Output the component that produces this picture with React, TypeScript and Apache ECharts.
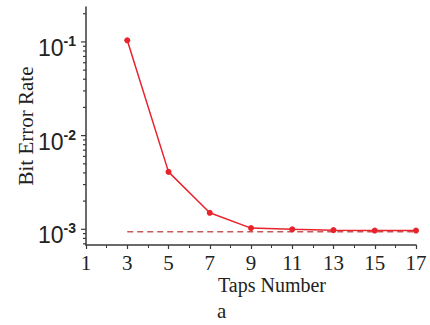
import React, { useEffect, useRef } from "react";
import * as echarts from "echarts";

const taps = [3, 5, 7, 9, 11, 13, 15, 17];
const ber = [0.104, 0.0041, 0.0015, 0.00103, 0.001, 0.00098, 0.00097, 0.00097];
const refX = [3, 17];
const refY = [0.00094, 0.00094];
const yMajorTicks = [0.001, 0.01, 0.1];
const yMinorTicks = [
  0.0007, 0.0008, 0.0009,
  0.002, 0.003, 0.004, 0.005, 0.006, 0.007, 0.008, 0.009,
  0.02, 0.03, 0.04, 0.05, 0.06, 0.07, 0.08, 0.09,
  0.2,
];
const xMin = 1;
const xMax = 17;
const yMin = 0.00068;
const yMax = 0.236;

export default function App() {
  const ref = useRef<HTMLDivElement>(null);
  useEffect(() => {
    if (!ref.current) return;
    const chart = echarts.init(ref.current, undefined, { renderer: "svg" });
    const serif = "'Liberation Serif', 'DejaVu Serif', serif";
    const axisColor = "#3a3a3a";
    const tickData = [
      ...yMajorTicks.map((v) => [xMin, v, 1]),
      ...yMinorTicks.map((v) => [xMin, v, 0]),
    ];
    chart.setOption({
      animation: false,
      backgroundColor: "#ffffff",
      grid: { left: 86, top: 7, right: 14, bottom: 80, containLabel: false },
      xAxis: {
        type: "value",
        min: xMin,
        max: xMax,
        interval: 2,
        name: "Taps Number",
        nameLocation: "middle",
        nameGap: 30,
        nameMoveOverlap: false,
        nameTextStyle: {
          fontFamily: serif,
          fontSize: 20,
          color: "#222",
          padding: [0, 0, 0, 42],
        },
        axisLine: { lineStyle: { color: axisColor, width: 1.5 } },
        axisTick: { show: true, length: 4, lineStyle: { color: axisColor, width: 1.2 } },
        minorTick: { show: true, splitNumber: 2, length: 3, lineStyle: { color: axisColor, width: 1 } },
        splitLine: { show: false },
        axisLabel: {
          fontFamily: serif,
          fontSize: 21,
          color: "#222",
          margin: 7,
        },
      },
      yAxis: {
        type: "log",
        logBase: 10,
        min: yMin,
        max: yMax,
        name: "Bit Error Rate",
        nameLocation: "middle",
        nameGap: 50,
        nameMoveOverlap: false,
        nameRotate: 90,
        nameTextStyle: { fontFamily: serif, fontSize: 21, color: "#222" },
        axisLine: { show: true, lineStyle: { color: axisColor, width: 1.5 } },
        axisTick: { show: false },
        splitLine: { show: false },
        axisLabel: {
          margin: 10,
          padding: [12, 0, 0, 0],
          formatter: (v: number) => {
            const l = Math.log10(v);
            const e = Math.round(l);
            if (Math.abs(l - e) > 1e-6) return "";
            return `{b|10}{s|${e}}`;
          },
          rich: {
            b: {
              fontFamily: "'Liberation Sans', Arial, sans-serif",
              fontSize: 23,
              color: "#222",
            },
            s: {
              fontFamily: "'Liberation Sans', Arial, sans-serif",
              fontSize: 14,
              color: "#222",
              fontWeight: "bold",
              padding: [0, 0, 14, 0],
            },
          },
        },
      },
      series: [
        {
          type: "line",
          data: refX.map((x, i) => [x, refY[i]]),
          symbol: "none",
          lineStyle: { color: "#c45a5a", width: 1.5, type: [6, 4] },
          z: 2,
        },
        {
          type: "line",
          data: taps.map((x, i) => [x, ber[i]]),
          symbol: "circle",
          symbolSize: 6,
          itemStyle: { color: "#e8232b" },
          lineStyle: { color: "#e8232b", width: 1.5 },
          z: 3,
        },
        {
          type: "custom",
          coordinateSystem: "cartesian2d",
          data: tickData,
          encode: { x: 0, y: 1 },
          silent: true,
          renderItem: (params: any, api: any) => {
            const p = api.coord([api.value(0), api.value(1)]);
            const len = api.value(2) ? 5 : 3;
            return {
              type: "line",
              shape: { x1: p[0] - len, y1: p[1], x2: p[0], y2: p[1] },
              style: { stroke: axisColor, lineWidth: 1.2 },
            };
          },
          z: 4,
        },
      ],
      graphic: [
        {
          type: "text",
          left: 217,
          top: 300,
          style: { text: "a", fontFamily: serif, fontSize: 21, fill: "#222" },
        },
      ],
    });
    return () => chart.dispose();
  }, []);
  return (
    <div
      ref={ref}
      style={{ position: "absolute", left: 0, top: 0, width: 430, height: 325 }}
    />
  );
}
